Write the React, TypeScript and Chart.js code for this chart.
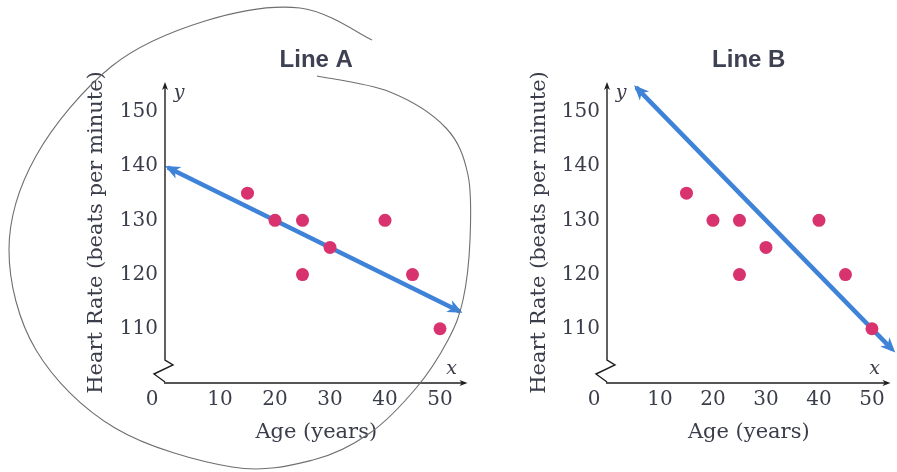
import React, { useEffect, useRef } from "react";
import { Chart, registerables } from "chart.js";

Chart.register(...registerables);

// ---- data ----
const ages = [15, 20, 25, 25, 30, 40, 45, 50];
const heartRates = [135, 130, 130, 120, 125, 130, 120, 110];
const xTickValues = [10, 20, 30, 40, 50];
const yTickValues = [110, 120, 130, 140, 150];
const lineAAges = [0.5, 53.6];
const lineARates = [139.75, 113.2];
const lineBAges = [5.5, 54];
const lineBRates = [154.5, 106];
const panelTitles = ["Line A", "Line B"];
const xAxisTitle = "Age (years)";
const yAxisTitle = "Heart Rate (beats per minute)";
const originLabel = "0";
const axisVarX = "x";
const axisVarY = "y";

// ---- style ----
const SERIF = "'DejaVu Serif', 'Liberation Serif', serif";
const TEXT = "#3a3d4a";
const DOT = "#d8336f";
const BLUE = "#3f83d9";
const AXIS = "#1e1e1e";

// hand-drawn pen loop around the first panel (decoration, canvas px)
const penStroke: [number, number][] = [
  [372, 40], [300, 8], [205, 21], [112, 66], [36, 156], [9, 250], [36, 350],
  [115, 428], [232, 467], [313, 460], [370, 433], [417, 387], [448, 340],
  [463, 300], [470, 240], [468, 175], [446, 128], [390, 92], [317, 76],
];

function arrowHead(ctx: CanvasRenderingContext2D, fx: number, fy: number, tx: number, ty: number, len: number, halfW: number, ext: number, color: string) {
  const ang = Math.atan2(ty - fy, tx - fx);
  ctx.save();
  ctx.translate(tx + Math.cos(ang) * ext, ty + Math.sin(ang) * ext);
  ctx.rotate(ang);
  ctx.fillStyle = color;
  ctx.beginPath();
  ctx.moveTo(0, 0);
  ctx.lineTo(-len, halfW);
  ctx.lineTo(-len * 0.72, 0);
  ctx.lineTo(-len, -halfW);
  ctx.closePath();
  ctx.fill();
  ctx.restore();
}

function smoothPath(ctx: CanvasRenderingContext2D, pts: [number, number][]) {
  ctx.moveTo(pts[0][0], pts[0][1]);
  for (let i = 0; i < pts.length - 1; i++) {
    const p0 = pts[i - 1] || pts[i];
    const p1 = pts[i];
    const p2 = pts[i + 1];
    const p3 = pts[i + 2] || p2;
    ctx.bezierCurveTo(
      p1[0] + (p2[0] - p0[0]) / 6, p1[1] + (p2[1] - p0[1]) / 6,
      p2[0] - (p3[0] - p1[0]) / 6, p2[1] - (p3[1] - p1[1]) / 6,
      p2[0], p2[1]
    );
  }
}

type PanelProps = {
  title: string;
  lineX: number[];
  lineY: number[];
  xMax: number;
  left: number;
  width: number;
  padLeft: number;
  padRight: number;
  yAxisWidth: number;
  pen: boolean;
};

function Panel(p: PanelProps) {
  const ref = useRef<HTMLCanvasElement>(null);
  useEffect(() => {
    if (!ref.current) return;
    const decorations = {
      id: "decorations",
      afterDatasetsDraw(chart: any) {
        const ctx: CanvasRenderingContext2D = chart.ctx;
        const meta = chart.getDatasetMeta(1);
        const a = meta.data[0];
        const b = meta.data[1];
        if (a && b) {
          arrowHead(ctx, b.x, b.y, a.x, a.y, 15, 6.5, 3, BLUE);
          arrowHead(ctx, a.x, a.y, b.x, b.y, 15, 6.5, 3, BLUE);
        }
      },
      afterDraw(chart: any) {
        const ctx: CanvasRenderingContext2D = chart.ctx;
        const xs = chart.scales.x;
        const ys = chart.scales.y;
        const area = chart.chartArea;
        const x0 = xs.getPixelForValue(0);
        const y0 = ys.getPixelForValue(100);
        ctx.save();
        ctx.strokeStyle = AXIS;
        ctx.lineWidth = 1.4;
        // y axis with break
        ctx.beginPath();
        ctx.moveTo(x0, area.top + 3);
        ctx.lineTo(x0, y0 - 23);
        ctx.lineTo(x0 + 8, y0 - 18);
        ctx.lineTo(x0 - 11, y0 - 9);
        ctx.lineTo(x0, y0 - 1);
        ctx.stroke();
        // x axis
        ctx.beginPath();
        ctx.moveTo(x0 - 1, y0);
        ctx.lineTo(area.right - 3, y0);
        ctx.stroke();
        arrowHead(ctx, x0, y0, x0, area.top, 8, 3, 0, AXIS);
        arrowHead(ctx, x0, y0, area.right, y0, 8, 3, 0, AXIS);
        // variable names
        ctx.fillStyle = TEXT;
        ctx.font = `italic 19px ${SERIF}`;
        ctx.textAlign = "center";
        ctx.textBaseline = "middle";
        ctx.fillText(axisVarY, x0 + 14, area.top + 11);
        ctx.fillText(axisVarX, area.right - 16, y0 - 14);
        // origin label
        ctx.font = `20px ${SERIF}`;
        ctx.fillText(originLabel, x0 - 13, y0 + 5 + 12);
        if (p.pen) {
          ctx.strokeStyle = "#6f6f6f";
          ctx.lineWidth = 1.1;
          ctx.beginPath();
          smoothPath(ctx, penStroke);
          ctx.stroke();
        }
        ctx.restore();
      },
    };
    const chart = new Chart(ref.current, {
      type: "scatter",
      data: {
        datasets: [
          {
            data: ages.map((a, i) => ({ x: a, y: heartRates[i] })),
            pointRadius: 6.5,
            pointHoverRadius: 6.5,
            backgroundColor: DOT,
            borderWidth: 0,
            showLine: false,
          },
          {
            data: p.lineX.map((a, i) => ({ x: a, y: p.lineY[i] })),
            showLine: true,
            pointRadius: 0,
            borderColor: BLUE,
            borderWidth: 4.5,
            backgroundColor: BLUE,
          },
        ],
      },
      options: {
        animation: false,
        responsive: false,
        layout: { padding: { left: p.padLeft, right: p.padRight, top: 0, bottom: 26.4 } },
        plugins: {
          legend: { display: false },
          tooltip: { enabled: false },
          title: {
            display: true,
            text: p.title,
            fullSize: false,
            color: "#3d4152",
            font: { family: "'Liberation Sans', Arial, sans-serif", size: 24, weight: "bold" },
            padding: { top: 45.6, bottom: 7.6 },
          },
        },
        scales: {
          x: {
            type: "linear",
            min: 0,
            max: p.xMax,
            grid: { display: false, drawTicks: false },
            border: { display: false },
            afterBuildTicks: (s: any) => {
              s.ticks = xTickValues.map((v) => ({ value: v }));
            },
            afterFit: (s: any) => {
              s.height = 62.6;
            },
            ticks: {
              font: { family: SERIF, size: 20 },
              color: TEXT,
              padding: 5,
              maxRotation: 0,
              autoSkip: false,
            },
            title: {
              display: true,
              text: xAxisTitle,
              color: TEXT,
              font: { family: SERIF, size: 21 },
              padding: { top: 0, bottom: 0 },
            },
          },
          y: {
            type: "linear",
            min: 100,
            max: 155.5,
            grid: { display: false, drawTicks: false },
            border: { display: false },
            afterBuildTicks: (s: any) => {
              s.ticks = yTickValues.map((v) => ({ value: v }));
            },
            afterFit: (s: any) => {
              s.width = p.yAxisWidth;
            },
            ticks: {
              font: { family: SERIF, size: 20 },
              color: TEXT,
              padding: 7,
              autoSkip: false,
            },
            title: {
              display: true,
              text: yAxisTitle,
              color: TEXT,
              font: { family: SERIF, size: 21 },
              padding: { top: 0, bottom: 0 },
            },
          },
        },
      },
      plugins: [decorations],
    } as any);
    return () => chart.destroy();
  }, []);
  return (
    <canvas
      ref={ref}
      width={p.width}
      height={472}
      style={{ position: "absolute", left: p.left, top: 0, width: p.width, height: 472 }}
    />
  );
}

export default function App() {
  return (
    <div style={{ position: "fixed", left: 0, top: 0, width: 897, height: 472, background: "#ffffff", overflow: "hidden" }}>
      <Panel
        title={panelTitles[0]}
        lineX={lineAAges}
        lineY={lineARates}
        xMax={55}
        left={0}
        width={478}
        padLeft={84.4}
        padRight={10.5}
        yAxisWidth={80.6}
        pen={true}
      />
      <Panel
        title={panelTitles[1]}
        lineX={lineBAges}
        lineY={lineBRates}
        xMax={53.5}
        left={470}
        width={427}
        padLeft={57.4}
        padRight={0}
        yAxisWidth={79.6}
        pen={false}
      />
    </div>
  );
}
